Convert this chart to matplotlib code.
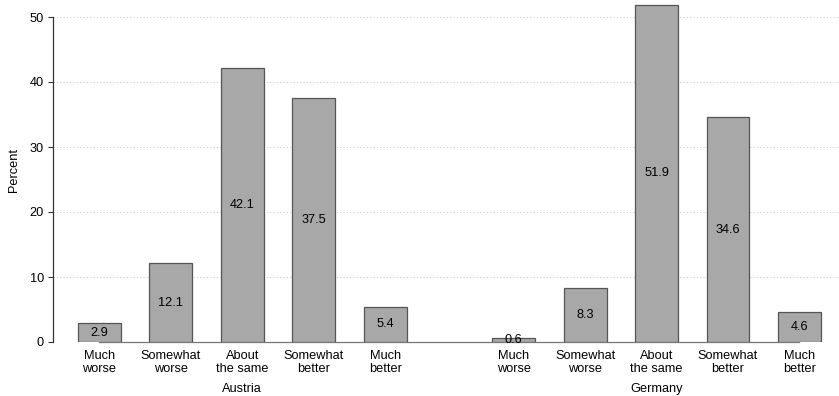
import matplotlib
matplotlib.use("Agg")
import matplotlib.pyplot as plt
import numpy as np

plt.rcParams['font.family'] = ['Liberation Sans', 'DejaVu Sans']

groups = ["Austria", "Germany"]
categories = ["Much\nworse", "Somewhat\nworse", "About\nthe same", "Somewhat\nbetter", "Much\nbetter"]
austria = [2.9, 12.1, 42.1, 37.5, 5.4]
germany = [0.6, 8.3, 51.9, 34.6, 4.6]
yticks = [0, 10, 20, 30, 40, 50]

FS = 9.2

fig = plt.figure(figsize=(8.39, 3.96), dpi=100)
ax = fig.add_axes([53/839, 54/396, 785/839, 339.3/396])

gap = 5.8
pos_a = np.arange(5)
pos_g = np.arange(5) + gap
for pos, vals in [(pos_a, austria), (pos_g, germany)]:
    ax.bar(pos, vals, width=0.6, color="#a8a8a8", edgecolor="#555555", linewidth=0.9, zorder=3)
    for x, v in zip(pos, vals):
        ax.text(x, v / 2, f"{v:.1f}", ha="center", va="center", fontsize=FS, color="black", zorder=4)

ax.set_xlim(-0.651, 10.34)
ax.set_ylim(0, 52.2)
ax.set_yticks(yticks)
ax.set_yticklabels([str(t) for t in yticks], fontsize=FS)
for t in yticks:
    ax.axhline(t, color="#cccccc", linestyle=(0, (1, 2)), linewidth=0.8, zorder=1)

ax.set_xticks(list(pos_a) + list(pos_g))
ax.set_xticklabels(categories * 2, fontsize=FS, linespacing=1.05)
ax.tick_params(axis="x", length=0, pad=6)
ax.tick_params(axis="y", length=3.6, width=0.8, color="#333333", pad=3)

for s in ["top", "right"]:
    ax.spines[s].set_visible(False)
ax.spines["left"].set_color("#333333")
ax.spines["left"].set_linewidth(0.9)
ax.spines["left"].set_bounds(0, 50)
ax.spines["bottom"].set_color("#777777")
ax.spines["bottom"].set_linewidth(0.9)
ax.spines["bottom"].set_bounds(0, 4 + gap)

ax.set_ylabel("Percent", fontsize=FS)
ax.yaxis.set_label_coords((20 - 53) / 785, 0.507)

for g, pos in zip(groups, [pos_a, pos_g]):
    ax.text(pos.mean(), -7.2, g, ha="center", va="center", fontsize=FS,
            transform=ax.transData, clip_on=False)

fig.savefig("out.png", dpi=100)
